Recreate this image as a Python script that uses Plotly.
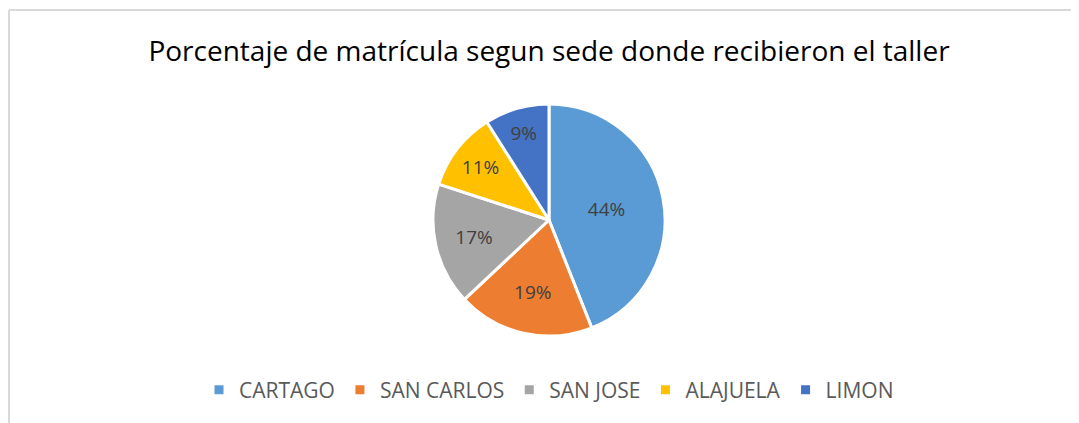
import plotly.graph_objects as go

# The page body has an 8px margin, so the figure is drawn 8px in from the window edges.
W, H = 1071, 415
labels = ["CARTAGO", "SAN CARLOS", "SAN JOSE", "ALAJUELA", "LIMON"]
values = [44, 19, 17, 11, 9]
colors = ["#5B9BD5", "#ED7D31", "#A5A5A5", "#FFC000", "#4472C4"]
title = "Porcentaje de matrícula segun sede donde recibieron el taller"

cx, cy, r = 541, 212, 116

fig = go.Figure(go.Pie(
    labels=labels, values=values, sort=False, direction="clockwise", rotation=0,
    marker=dict(colors=colors, line=dict(color="white", width=3)),
    textinfo="percent", texttemplate="%{percent:.0%}", textposition="inside",
    insidetextorientation="horizontal",
    textfont=dict(color="#404040", size=19, family="Open Sans"),
    domain=dict(x=[(cx - r) / W, (cx + r) / W], y=[(H - cy - r) / H, (H - cy + r) / H]),
    hoverinfo="label+percent",
))

fig.update_layout(
    width=W, height=H, margin=dict(l=0, r=0, t=0, b=0),
    paper_bgcolor="white", plot_bgcolor="white",
    title=dict(text=title, x=541 / W, xanchor="center", y=1 - 43 / H, yanchor="middle",
               font=dict(family="Open Sans", size=28, color="#000000")),
    legend=dict(orientation="h", x=541 / W, xanchor="center", y=1 - 382 / H, yanchor="middle",
                font=dict(family="Open Sans", size=21, color="#595959"),
                itemwidth=30, traceorder="normal"),
    shapes=[
        dict(type="line", xref="paper", yref="paper", x0=1 / W, x1=1 / W, y0=0, y1=1 - 2 / H,
             line=dict(color="#D9D9D9", width=2)),
        dict(type="line", xref="paper", yref="paper", x0=1 / W, x1=1, y0=1 - 2 / H, y1=1 - 2 / H,
             line=dict(color="#D9D9D9", width=2)),
    ],
)
fig.write_html("out.html")
